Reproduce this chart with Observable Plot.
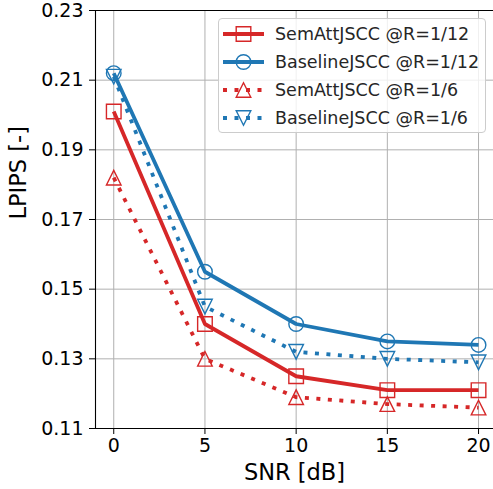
<!DOCTYPE html>
<html>
<head>
<meta charset="utf-8">
<script src="https://cdn.jsdelivr.net/npm/d3@7"></script>
<script src="https://cdn.jsdelivr.net/npm/@observablehq/plot@0.6"></script>
<style>
  html, body { margin: 0; padding: 0; background: #fff; }
  body { font-family: "DejaVu Sans", sans-serif; }
  #wrap { position: relative; width: 493px; height: 489px; }
  #legend {
    position: absolute; left: 218px; top: 18px; width: 268px; height: 115px;
    background: rgba(255,255,255,0.8); border: 1px solid #cccccc; border-radius: 4px;
    box-sizing: border-box;
  }
  .row { position: absolute; left: 0; height: 28px; display: flex; align-items: center; }
  .row svg { display: block; margin-left: 2px; }
  .row span { font-size: 17.5px; color: #262626; margin-left: 11px; white-space: nowrap; }
</style>
</head>
<body>
<div id="wrap"></div>
<script>
// ---- data ----
const snr = [0, 5, 10, 15, 20];
const semAtt12 = [0.201, 0.140, 0.125, 0.121, 0.121];
const base12   = [0.212, 0.155, 0.140, 0.135, 0.134];
const semAtt6  = [0.182, 0.130, 0.119, 0.117, 0.116];
const base6    = [0.211, 0.145, 0.132, 0.130, 0.129];
const seriesNames = ["SemAttJSCC @R=1/12", "BaselineJSCC @R=1/12", "SemAttJSCC @R=1/6", "BaselineJSCC @R=1/6"];
const yTicks = [0.11, 0.13, 0.15, 0.17, 0.19, 0.21, 0.23];
const xTicks = [0, 5, 10, 15, 20];
const xLabel = "SNR [dB]";
const yLabel = "LPIPS [-]";

// ---- styles ----
const red = "#d62728", blue = "#1f77b4";
const xDomain = [-1, 20.82];
const yDomain = [0.11, 0.23];

const symSquare = {draw(ctx, size) { const r = Math.sqrt(size / Math.PI); ctx.moveTo(-r, -r); ctx.lineTo(r, -r); ctx.lineTo(r, r); ctx.lineTo(-r, r); ctx.closePath(); }};
const symTriUp = {draw(ctx, size) { const r = Math.sqrt(size / Math.PI); ctx.moveTo(0, -r); ctx.lineTo(r, r); ctx.lineTo(-r, r); ctx.closePath(); }};
const symTriDown = {draw(ctx, size) { const r = Math.sqrt(size / Math.PI); ctx.moveTo(0, r); ctx.lineTo(-r, -r); ctx.lineTo(r, -r); ctx.closePath(); }};
const symCircle = {draw(ctx, size) { const r = Math.sqrt(size / Math.PI); ctx.moveTo(r, 0); ctx.arc(0, 0, r, 0, 2 * Math.PI); }};

const seriesVals = [semAtt12, base12, semAtt6, base6];
const seriesStyle = [
  {color: red, dash: null, sym: symSquare},
  {color: blue, dash: null, sym: symCircle},
  {color: red, dash: "4,7.5", sym: symTriUp},
  {color: blue, dash: "4,7.5", sym: symTriDown}
];
const lineW = 3.8, markR = 7.3, markW = 1.4;

const marks = [
  Plot.gridX(xTicks, {stroke: "#b0b0b0", strokeOpacity: 1, strokeWidth: 1}),
  Plot.gridY(yTicks, {stroke: "#b0b0b0", strokeOpacity: 1, strokeWidth: 1}),
];
seriesVals.forEach((vals, i) => {
  const data = snr.map((s, j) => ({snr: s, v: vals[j]}));
  const st = seriesStyle[i];
  marks.push(Plot.line(data, {x: "snr", y: "v", stroke: st.color, strokeWidth: lineW, strokeDasharray: st.dash, strokeLinecap: "butt", strokeLinejoin: "round"}));
  marks.push(Plot.dot(data, {x: "snr", y: "v", r: markR, symbol: st.sym, stroke: st.color, strokeWidth: markW, fill: "none"}));
});
marks.push(
  Plot.ruleX([xDomain[0]], {stroke: "#000", strokeWidth: 1.1}),
  Plot.ruleY(yDomain, {stroke: "#000", strokeWidth: 1.1}),
  Plot.axisX(xTicks, {tickSize: 6, tickPadding: 4, fontSize: 19, label: null, stroke: "#000", fill: "#000"}),
  Plot.axisY(yTicks, {tickSize: 6, tickPadding: 6, fontSize: 19, label: null, tickFormat: d3.format(".2f"), stroke: "#000", fill: "#000"}),
  Plot.text([xLabel], {text: d => d, frameAnchor: "bottom", dy: 44, fontSize: 22.5, fill: "#000", lineAnchor: "middle"}),
  Plot.text([yLabel], {text: d => d, frameAnchor: "left", dx: -77, rotate: -90, fontSize: 22.5, fill: "#000", lineAnchor: "middle"})
);

const chart = Plot.plot({
  width: 493, height: 489,
  marginLeft: 95, marginRight: 0, marginTop: 10, marginBottom: 61,
  style: {fontFamily: "DejaVu Sans", background: "#fff", overflow: "visible"},
  x: {domain: xDomain},
  y: {domain: yDomain},
  marks
});
const wrap = document.getElementById("wrap");
wrap.appendChild(chart);

// ---- legend ----
const legend = document.createElement("div");
legend.id = "legend";
wrap.appendChild(legend);
seriesNames.forEach((name, i) => {
  const st = seriesStyle[i];
  const row = document.createElement("div");
  row.className = "row";
  row.style.top = (1 + i * 28) + "px";
  const svg = d3.create("svg").attr("width", 43).attr("height", 28);
  svg.append("line").attr("x1", 2).attr("x2", 43).attr("y1", 14).attr("y2", 14)
    .attr("stroke", st.color).attr("stroke-width", lineW)
    .attr("stroke-dasharray", st.dash).attr("stroke-linecap", "butt");
  const sz = Math.PI * markR * markR;
  svg.append("path").attr("transform", "translate(22.5,14)")
    .attr("d", d3.symbol(st.sym, sz)())
    .attr("fill", "none").attr("stroke", st.color).attr("stroke-width", markW);
  row.appendChild(svg.node());
  const span = document.createElement("span");
  span.textContent = name;
  row.appendChild(span);
  legend.appendChild(row);
});
</script>
</body>
</html>
